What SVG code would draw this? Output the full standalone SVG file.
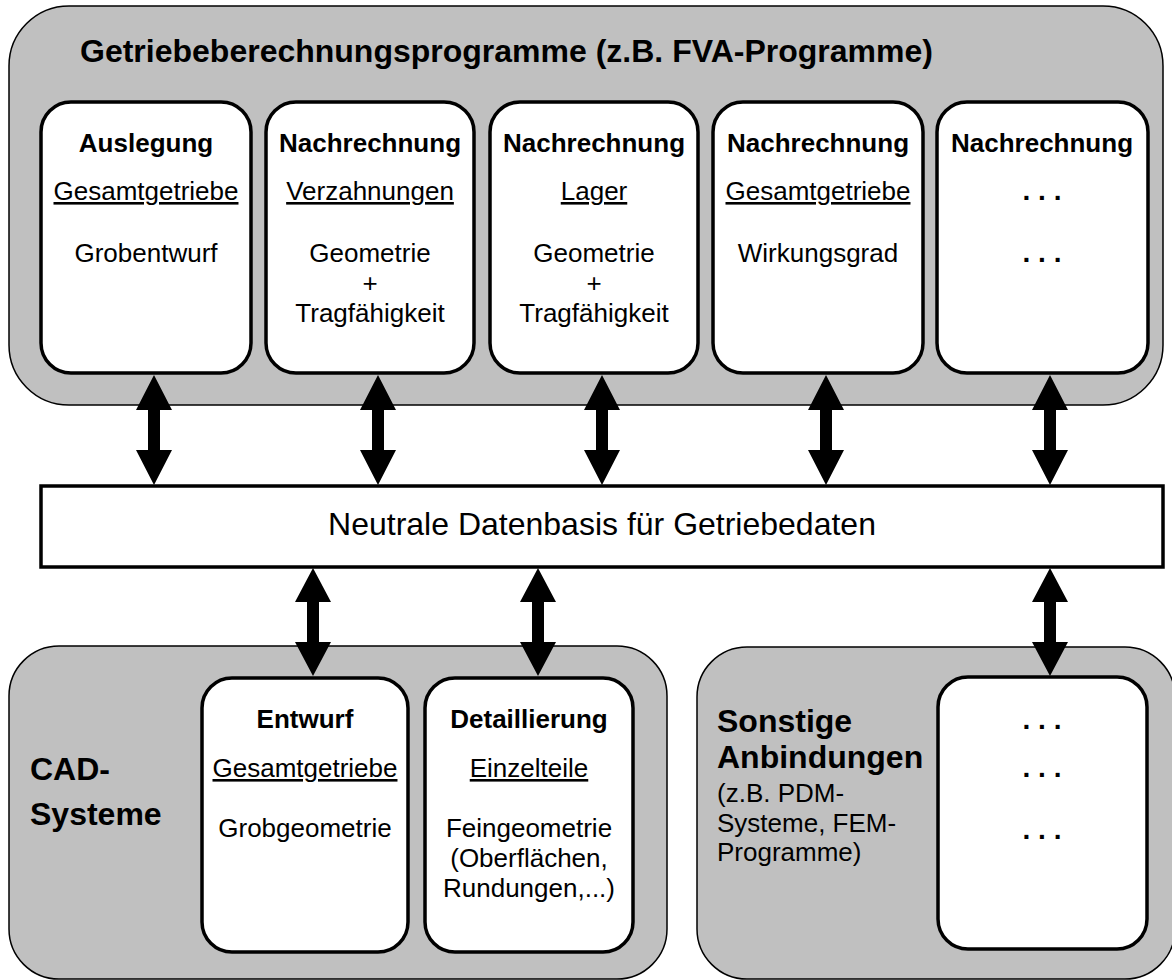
<svg xmlns="http://www.w3.org/2000/svg" width="1172" height="980" viewBox="0 0 1172 980">
<style>
.outer{fill:#c0c0c0;stroke:#000;stroke-width:1.5}
.box{fill:#fff;stroke:#000;stroke-width:3.5}
.hb{font-family:"Liberation Sans",Arial,sans-serif;font-weight:bold;font-size:26px;text-anchor:middle;fill:#000}
.t{font-family:"Liberation Sans",Arial,sans-serif;font-size:26px;text-anchor:middle;fill:#000}
.u{text-decoration:underline}
.big{font-family:"Liberation Sans",Arial,sans-serif;font-weight:bold;font-size:32px;fill:#000}
.dots{font-family:"Liberation Sans",Arial,sans-serif;font-weight:bold;font-size:28px;text-anchor:middle;fill:#000}
.arr{fill:#000}
</style>
<rect width="1172" height="980" fill="#fff"/>

<g id="fva-group">
<rect class="outer" x="9" y="6" width="1154" height="399" rx="60" ry="60"/>
<text class="big" x="80" y="62">Getriebeberechnungsprogramme (z.B. FVA-Programme)</text>
</g>

<g id="cad-group">
<rect class="outer" x="9" y="646" width="658" height="333" rx="50" ry="50"/>
<text class="big" x="30" y="780">CAD-</text>
<text class="big" x="30" y="825">Systeme</text>
</g>

<g id="sonstige-group">
<rect class="outer" x="697" y="647" width="478" height="332" rx="50" ry="50"/>
<text class="big" x="717" y="732">Sonstige</text>
<text class="big" x="717" y="768">Anbindungen</text>
<text class="t" x="717" y="802" style="text-anchor:start">(z.B. PDM-</text>
<text class="t" x="717" y="832" style="text-anchor:start">Systeme, FEM-</text>
<text class="t" x="717" y="861" style="text-anchor:start">Programme)</text>
</g>

<g id="n-auslegung">
<rect class="box" x="41" y="102" width="210" height="271" rx="30" ry="30"/>
<text class="hb" x="146" y="152">Auslegung</text>
<text class="t u" x="146" y="200">Gesamtgetriebe</text>
<text class="t" x="146" y="262">Grobentwurf</text>
</g>

<g id="n-verzahnungen">
<rect class="box" x="266" y="102" width="208" height="271" rx="30" ry="30"/>
<text class="hb" x="370" y="152">Nachrechnung</text>
<text class="t u" x="370" y="200">Verzahnungen</text>
<text class="t" x="370" y="262">Geometrie</text>
<text class="t" x="370" y="292">+</text>
<text class="t" x="370" y="322">Tragfähigkeit</text>
</g>

<g id="n-lager">
<rect class="box" x="490" y="102" width="208" height="271" rx="30" ry="30"/>
<text class="hb" x="594" y="152">Nachrechnung</text>
<text class="t u" x="594" y="200">Lager</text>
<text class="t" x="594" y="262">Geometrie</text>
<text class="t" x="594" y="292">+</text>
<text class="t" x="594" y="322">Tragfähigkeit</text>
</g>

<g id="n-wirkungsgrad">
<rect class="box" x="713" y="102" width="210" height="271" rx="30" ry="30"/>
<text class="hb" x="818" y="152">Nachrechnung</text>
<text class="t u" x="818" y="200">Gesamtgetriebe</text>
<text class="t" x="818" y="262">Wirkungsgrad</text>
</g>

<g id="n-weitere">
<rect class="box" x="937" y="102" width="211" height="271" rx="30" ry="30"/>
<text class="hb" x="1042" y="152">Nachrechnung</text>
<text class="dots" x="1042" y="200">. . .</text>
<text class="dots" x="1042" y="262">. . .</text>
</g>

<g id="n-datenbasis">
<rect x="41" y="486" width="1122" height="81" fill="#fff" stroke="#000" stroke-width="3.5"/>
<text class="big" x="602" y="535" style="font-weight:normal;text-anchor:middle">Neutrale Datenbasis für Getriebedaten</text>
</g>

<g id="n-entwurf">
<rect class="box" x="202" y="678" width="206" height="274" rx="30" ry="30"/>
<text class="hb" x="305" y="728">Entwurf</text>
<text class="t u" x="305" y="777">Gesamtgetriebe</text>
<text class="t" x="305" y="837">Grobgeometrie</text>
</g>

<g id="n-detaillierung">
<rect class="box" x="425" y="678" width="208" height="274" rx="30" ry="30"/>
<text class="hb" x="529" y="728">Detaillierung</text>
<text class="t u" x="529" y="777">Einzelteile</text>
<text class="t" x="529" y="837">Feingeometrie</text>
<text class="t" x="529" y="867">(Oberflächen,</text>
<text class="t" x="529" y="897">Rundungen,...)</text>
</g>

<g id="n-sonstige">
<rect class="box" x="938" y="677" width="209" height="272" rx="30" ry="30"/>
<text class="dots" x="1042" y="729">. . .</text>
<text class="dots" x="1042" y="777">. . .</text>
<text class="dots" x="1042" y="839">. . .</text>
</g>

<g id="connectors">
<polygon class="arr" points="154,375 172,410 160,410 160,450 172,450 154,485 136,450 148,450 148,410 136,410"/>
<polygon class="arr" points="378,375 396,410 384,410 384,450 396,450 378,485 360,450 372,450 372,410 360,410"/>
<polygon class="arr" points="602,375 620,410 608,410 608,450 620,450 602,485 584,450 596,450 596,410 584,410"/>
<polygon class="arr" points="826,375 844,410 832,410 832,450 844,450 826,485 808,450 820,450 820,410 808,410"/>
<polygon class="arr" points="1050,375 1068,410 1056,410 1056,450 1068,450 1050,485 1032,450 1044,450 1044,410 1032,410"/>
<polygon class="arr" points="313,568 331,602 319,602 319,642 331,642 313,676 295,642 307,642 307,602 295,602"/>
<polygon class="arr" points="538,568 556,602 544,602 544,642 556,642 538,676 520,642 532,642 532,602 520,602"/>
<polygon class="arr" points="1050,568 1068,602 1056,602 1056,642 1068,642 1050,676 1032,642 1044,642 1044,602 1032,602"/>
</g>
</svg>
